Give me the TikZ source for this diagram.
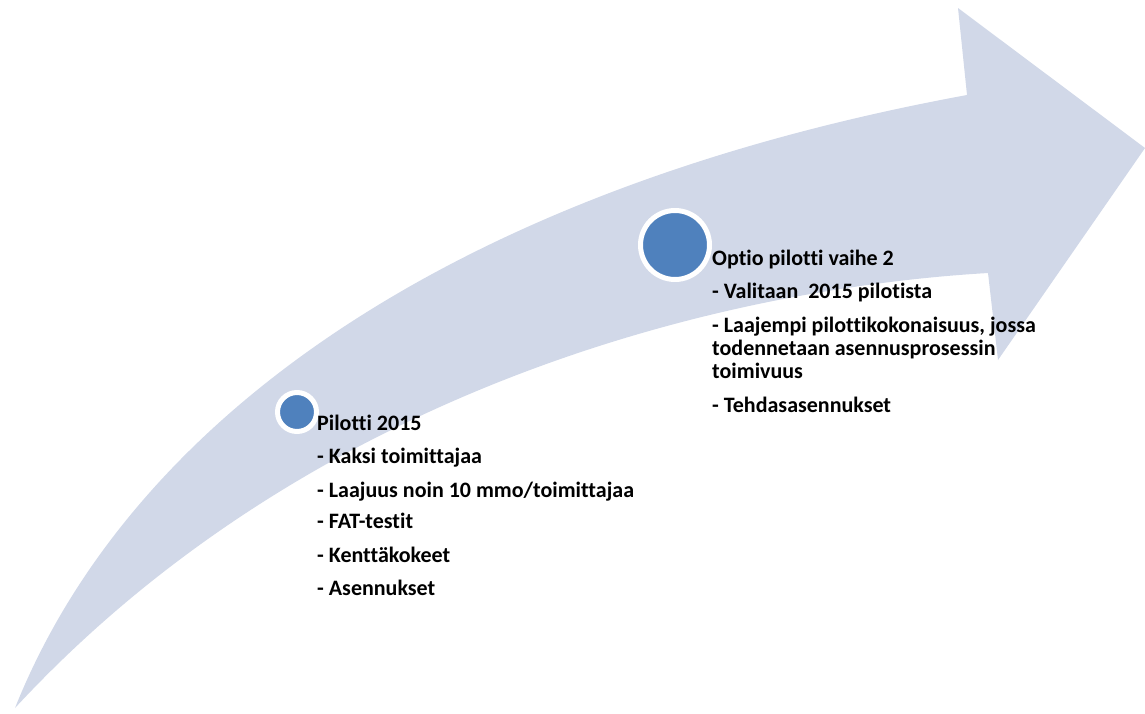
\documentclass[tikz,border=0pt]{standalone}
\usepackage{fontspec}
\setmainfont{Carlito}[Ligatures=NoCommon]
\definecolor{bandfill}{RGB}{209,216,232}
\definecolor{dotfill}{RGB}{79,129,189}
\begin{document}
\begin{tikzpicture}[x=1pt,y=-1pt,
  band/.style={fill=bandfill},
  dot/.style={circle,fill=dotfill,draw=white,line width=5pt,inner sep=0pt},
  item/.style={anchor=base west,inner sep=0pt,font=\fontsize{22}{23}\selectfont\bfseries}]
\useasboundingbox (0,0) rectangle (1145,713);
% curved arrow
\fill[band] (15,708) .. controls (130,420) and (450,190) .. (967,95)
  -- (958,8) -- (1145,148) -- (998,360) -- (988,273)
  .. controls (700,290) and (300,400) .. (15,708) -- cycle;
% milestones
\node[dot,minimum size=39pt] (m1) at (297,412) {};
\node[dot,minimum size=69pt] (m2) at (675,245) {};
% first milestone text
\node[item] (a0) at (317,430) {Pilotti 2015};
\node[item] (a1) at (317,463) {- Kaksi toimittajaa};
\node[item] (a2) at (317,497) {- Laajuus noin 10 mmo/toimittajaa};
\node[item] (a3) at (317,528) {- FAT-testit};
\node[item] (a4) at (317,562) {- Kenttäkokeet};
\node[item] (a5) at (317,595) {- Asennukset};
% second milestone text
\node[item] (b0) at (712,265) {Optio pilotti vaihe 2};
\node[item] (b1) at (712,298) {- Valitaan\ \ 2015 pilotista};
\node[item] (b2) at (712,332) {\vtop{\baselineskip=23pt
  \hbox{- Laajempi pilottikokonaisuus, jossa}
  \hbox{todennetaan asennusprosessin}
  \hbox{toimivuus}}};
\node[item] (b3) at (712,412) {- Tehdasasennukset};
\end{tikzpicture}
\end{document}
